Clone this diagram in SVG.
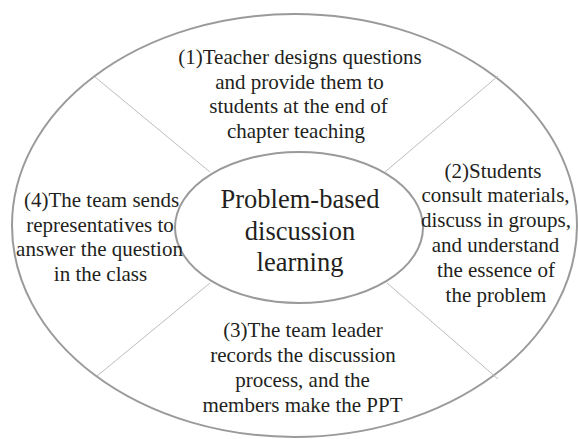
<svg xmlns="http://www.w3.org/2000/svg" width="578" height="439" viewBox="0 0 578 439">
  <style>
    .ring { fill: none; stroke: #9a9a9a; stroke-width: 2; }
    .hub { fill: #ffffff; stroke: #9a9a9a; stroke-width: 2; }
    .divider { stroke: #bdbdbd; stroke-width: 1; fill: none; }
    .label { font-size: 21px; fill: #231f20; text-anchor: middle; }
    .title { font-size: 26.5px; fill: #231f20; text-anchor: middle; }
  </style>
  <rect width="578" height="439" fill="#ffffff"/>

  <g id="outer-ring">
    <ellipse class="ring" cx="294.5" cy="225.5" rx="282.5" ry="211.5"/>
  </g>

  <g id="connectors">
    <line class="divider" x1="95" y1="77" x2="210" y2="172"/>
    <line class="divider" x1="498" y1="76" x2="385" y2="172"/>
    <line class="divider" x1="97" y1="376" x2="210" y2="283"/>
    <line class="divider" x1="498" y1="379" x2="387" y2="283"/>
  </g>

  <g font-family="Liberation Serif, Times New Roman, DejaVu Serif, serif">
    <g id="center">
      <ellipse class="hub" cx="299" cy="227.5" rx="124" ry="75.5"/>
      <text class="title" x="300" y="208">Problem-based</text>
      <text class="title" x="300" y="240">discussion</text>
      <text class="title" x="300" y="271">learning</text>
    </g>

    <g id="step1">
      <text class="label" x="300" y="64">(1)Teacher designs questions</text>
      <text class="label" x="299.5" y="88.7">and provide them to</text>
      <text class="label" x="298.5" y="113.4">students at the end of</text>
      <text class="label" x="296" y="138">chapter teaching</text>
    </g>

    <g id="step2">
      <text class="label" x="493" y="177.5">(2)Students</text>
      <text class="label" x="495.5" y="202.3">consult materials,</text>
      <text class="label" x="496" y="227.1">discuss in groups,</text>
      <text class="label" x="495.5" y="251.9">and understand</text>
      <text class="label" x="496" y="276.7">the essence of</text>
      <text class="label" x="496" y="301.5">the problem</text>
    </g>

    <g id="step3">
      <text class="label" x="303" y="337">(3)The team leader</text>
      <text class="label" x="303" y="362">records the discussion</text>
      <text class="label" x="302.5" y="387">process, and the</text>
      <text class="label" x="302.5" y="412">members make the PPT</text>
    </g>

    <g id="step4">
      <text class="label" x="101.5" y="207">(4)The team sends</text>
      <text class="label" x="100" y="231.7">representatives to</text>
      <text class="label" x="99.5" y="256.4">answer the question</text>
      <text class="label" x="100.5" y="281">in the class</text>
    </g>
  </g>
</svg>
